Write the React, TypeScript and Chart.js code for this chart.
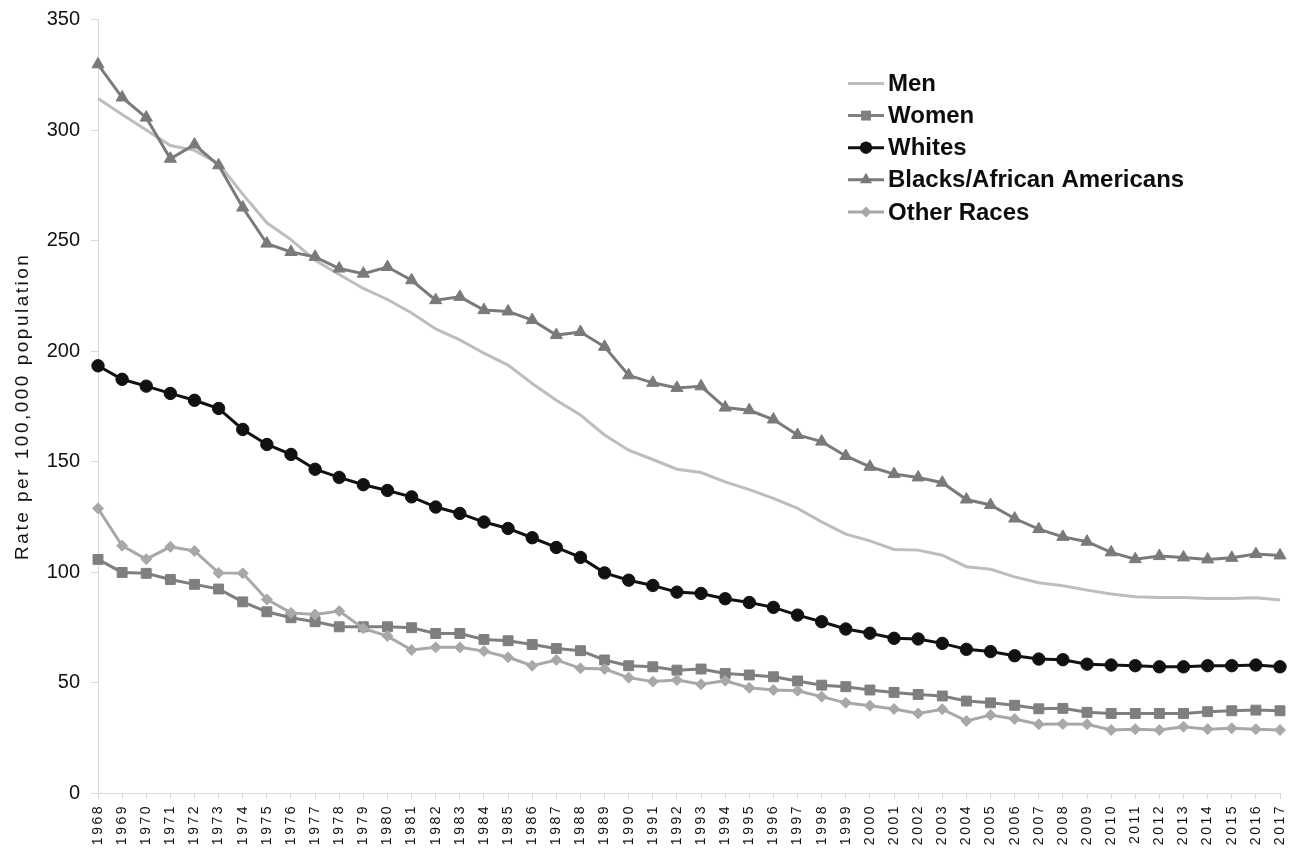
import React, { useEffect, useRef } from 'react';
import { Chart, registerables } from 'chart.js';

Chart.register(...registerables);

const years = [
  '1968', '1969', '1970', '1971', '1972', '1973', '1974', '1975', '1976', '1977',
  '1978', '1979', '1980', '1981', '1982', '1983', '1984', '1985', '1986', '1987',
  '1988', '1989', '1990', '1991', '1992', '1993', '1994', '1995', '1996', '1997',
  '1998', '1999', '2000', '2001', '2002', '2003', '2004', '2005', '2006', '2007',
  '2008', '2009', '2010', '2011', '2012', '2013', '2014', '2015', '2016', '2017',
];

const men = [
  314.2, 307, 300, 293, 290.8, 284.8, 271, 258, 250.4, 241,
  234.6, 228.3, 223.3, 217.2, 210, 205, 199, 193.6, 185.3, 177.7,
  171, 162, 155.1, 150.9, 146.5, 145, 140.8, 137.3, 133.3, 128.8,
  122.7, 117.1, 114.1, 110.2, 109.9, 107.6, 102.4, 101.2, 97.8, 95.1,
  93.8, 91.8, 90, 88.8, 88.5, 88.5, 88, 88, 88.3, 87.3,
];

const women = [
  105.7, 99.8, 99.4, 96.6, 94.4, 92.3, 86.5, 82, 79.3, 77.5,
  75.2, 75.2, 75.2, 74.8, 72.2, 72.2, 69.5, 68.9, 67.2, 65.4,
  64.4, 60.2, 57.6, 57.1, 55.6, 56.1, 54.1, 53.4, 52.6, 50.7,
  48.8, 48.1, 46.6, 45.5, 44.6, 43.9, 41.6, 40.8, 39.7, 38.1,
  38.3, 36.5, 36, 36, 36, 36, 36.8, 37.2, 37.5, 37.2,
];

const whites = [
  193.3, 187.2, 184.1, 180.8, 177.7, 174, 164.5, 157.7, 153.2, 146.5,
  142.8, 139.5, 136.9, 134, 129.4, 126.5, 122.6, 119.7, 115.5, 111.1,
  106.6, 99.6, 96.3, 93.9, 90.9, 90.3, 87.9, 86.2, 84, 80.5,
  77.5, 74.2, 72.3, 70, 69.7, 67.7, 65, 64, 62.1, 60.6,
  60.3, 58.3, 57.9, 57.6, 57.1, 57.1, 57.6, 57.6, 57.9, 57.1,
];

const blacks = [
  329.7, 314.7, 305.6, 287, 293.4, 284, 264.9, 248.6, 244.8, 242.6,
  237.3, 235, 238, 232, 223, 224.5, 218.5, 217.9, 214, 207.2,
  208.6, 201.9, 189, 185.6, 183.3, 184, 174.4, 173.2, 169, 162,
  159, 152.5, 147.6, 144.3, 142.8, 140.4, 132.8, 130.3, 124.2, 119.4,
  115.9, 113.7, 108.9, 105.8, 107.2, 106.6, 105.7, 106.4, 108.1, 107.5,
];

const otherRaces = [
  128.8, 111.9, 105.8, 111.4, 109.5, 99.6, 99.4, 87.6, 81.5, 80.8,
  82.3, 74.5, 71, 64.7, 65.9, 65.9, 64.2, 61.4, 57.6, 60.2,
  56.4, 56.1, 52.2, 50.4, 51.1, 49.2, 50.8, 47.6, 46.6, 46.3,
  43.6, 40.8, 39.5, 38, 36, 37.9, 32.6, 35.3, 33.5, 31.1,
  31.2, 31.1, 28.5, 28.9, 28.5, 30, 28.9, 29.3, 28.9, 28.5,
];

const seriesLabels = ['Men', 'Women', 'Whites', 'Blacks/African Americans', 'Other Races'];
const yTitle = 'Rate per 100,000 population';

const FONT = "'Liberation Sans', Arial, Helvetica, sans-serif";

function drawMarker(ctx: CanvasRenderingContext2D, style: string, x: number, y: number, r: number, color: string) {
  if (!r) return;
  ctx.fillStyle = color;
  ctx.beginPath();
  if (style === 'circle') {
    ctx.arc(x, y, r, 0, Math.PI * 2);
  } else if (style === 'rect') {
    const s = Math.SQRT1_2 * r;
    ctx.rect(x - s, y - s, 2 * s, 2 * s);
  } else if (style === 'triangle') {
    let a = 0;
    ctx.moveTo(x + Math.sin(a) * r, y - Math.cos(a) * r);
    a += (2 * Math.PI) / 3;
    ctx.lineTo(x + Math.sin(a) * r, y - Math.cos(a) * r);
    a += (2 * Math.PI) / 3;
    ctx.lineTo(x + Math.sin(a) * r, y - Math.cos(a) * r);
  } else if (style === 'rectRot') {
    ctx.moveTo(x, y - r);
    ctx.lineTo(x + r, y);
    ctx.lineTo(x, y + r);
    ctx.lineTo(x - r, y);
  }
  ctx.closePath();
  ctx.fill();
}

const legendPlugin = {
  id: 'insideLegend',
  afterDraw(chart: any) {
    const { ctx, chartArea } = chart;
    const x0 = chartArea.left + 750;
    const y0 = chartArea.top + 64;
    const row = 32.1;
    chart.data.datasets.forEach((ds: any, i: number) => {
      const y = y0 + i * row;
      ctx.save();
      ctx.strokeStyle = ds.borderColor;
      ctx.lineWidth = ds.borderWidth;
      ctx.beginPath();
      ctx.moveTo(x0, y);
      ctx.lineTo(x0 + 36, y);
      ctx.stroke();
      drawMarker(ctx, ds.pointStyle, x0 + 18, y, ds.pointRadius, ds.pointBackgroundColor);
      ctx.fillStyle = '#0d0d0d';
      ctx.font = `bold 24px ${FONT}`;
      ctx.textAlign = 'left';
      ctx.textBaseline = 'middle';
      ctx.fillText(ds.label, x0 + 40, y + 1);
      ctx.restore();
    });
  },
};

const spacingPlugin = {
  id: 'letterSpacing',
  afterLayout(chart: any) {
    const xs = chart.scales.x;
    const ys = chart.scales.y;
    if (xs && !xs.__spaced) {
      const orig = xs.drawLabels;
      xs.drawLabels = function (area: any) {
        const c = this.ctx;
        c.save();
        c.letterSpacing = '2.5px';
        orig.call(this, area);
        c.restore();
      };
      xs.__spaced = true;
    }
    if (ys && !ys.__spaced) {
      const orig = ys.drawTitle;
      ys.drawTitle = function () {
        const c = this.ctx;
        c.save();
        c.letterSpacing = '2.5px';
        orig.call(this);
        c.restore();
      };
      ys.__spaced = true;
    }
  },
};

export default function App() {
  const ref = useRef<HTMLCanvasElement>(null);

  useEffect(() => {
    document.body.style.margin = '0';
    const mk = (label: string, data: number[], color: string, style: string | false, radius: number, order: number) => ({
      label,
      data,
      borderColor: color,
      backgroundColor: color,
      borderWidth: 3,
      pointStyle: style,
      pointRadius: radius,
      pointBackgroundColor: color,
      pointBorderColor: color,
      pointBorderWidth: 1,
      tension: 0,
      order,
    });
    const chart = new Chart(ref.current as HTMLCanvasElement, {
      type: 'line',
      data: {
        labels: years,
        datasets: [
          mk(seriesLabels[0], men, '#bdbdbd', false, 0, 5),
          mk(seriesLabels[1], women, '#7f7f7f', 'rect', 7, 4),
          mk(seriesLabels[2], whites, '#111111', 'circle', 6.2, 3),
          mk(seriesLabels[3], blacks, '#7a7a7a', 'triangle', 7, 2),
          mk(seriesLabels[4], otherRaces, '#a8a8a8', 'rectRot', 5.5, 1),
        ] as any,
      },
      options: {
        responsive: false,
        animation: false,
        devicePixelRatio: 1,
        layout: { padding: { top: 19.5, right: 20, left: 0, bottom: 0 } },
        plugins: {
          legend: { display: false },
          tooltip: { enabled: false },
        },
        scales: {
          x: {
            type: 'category',
            offset: false,
            grid: {
              display: true,
              drawOnChartArea: false,
              drawTicks: true,
              tickLength: 6,
              color: '#d9d9d9',
            },
            border: { display: true, color: '#d9d9d9', width: 1 },
            ticks: {
              autoSkip: false,
              maxRotation: 90,
              minRotation: 90,
              padding: 5,
              color: '#111111',
              font: { family: FONT, size: 14 },
            },
            afterFit: (s: any) => {
              s.height = 62;
              s.paddingLeft = 0;
              s.paddingRight = 0;
            },
          },
          y: {
            min: 0,
            max: 350,
            ticks: {
              stepSize: 50,
              padding: 11,
              color: '#111111',
              font: { family: FONT, size: 20 },
            },
            grid: {
              display: true,
              drawOnChartArea: false,
              drawTicks: true,
              tickLength: 7,
              color: '#d9d9d9',
            },
            border: { display: true, color: '#d9d9d9', width: 1 },
            title: {
              display: true,
              text: yTitle,
              color: '#111111',
              font: { family: FONT, size: 19 },
              padding: { top: 11, bottom: 0 },
            },
            afterFit: (s: any) => {
              s.width = 98;
              s.paddingTop = 0;
              s.paddingBottom = 0;
            },
          },
        },
      } as any,
      plugins: [spacingPlugin, legendPlugin],
    });
    return () => chart.destroy();
  }, []);

  return (
    <div style={{ position: 'absolute', left: 0, top: 0, width: 1300, height: 855, background: '#ffffff' }}>
      <canvas ref={ref} width={1300} height={855} />
    </div>
  );
}
